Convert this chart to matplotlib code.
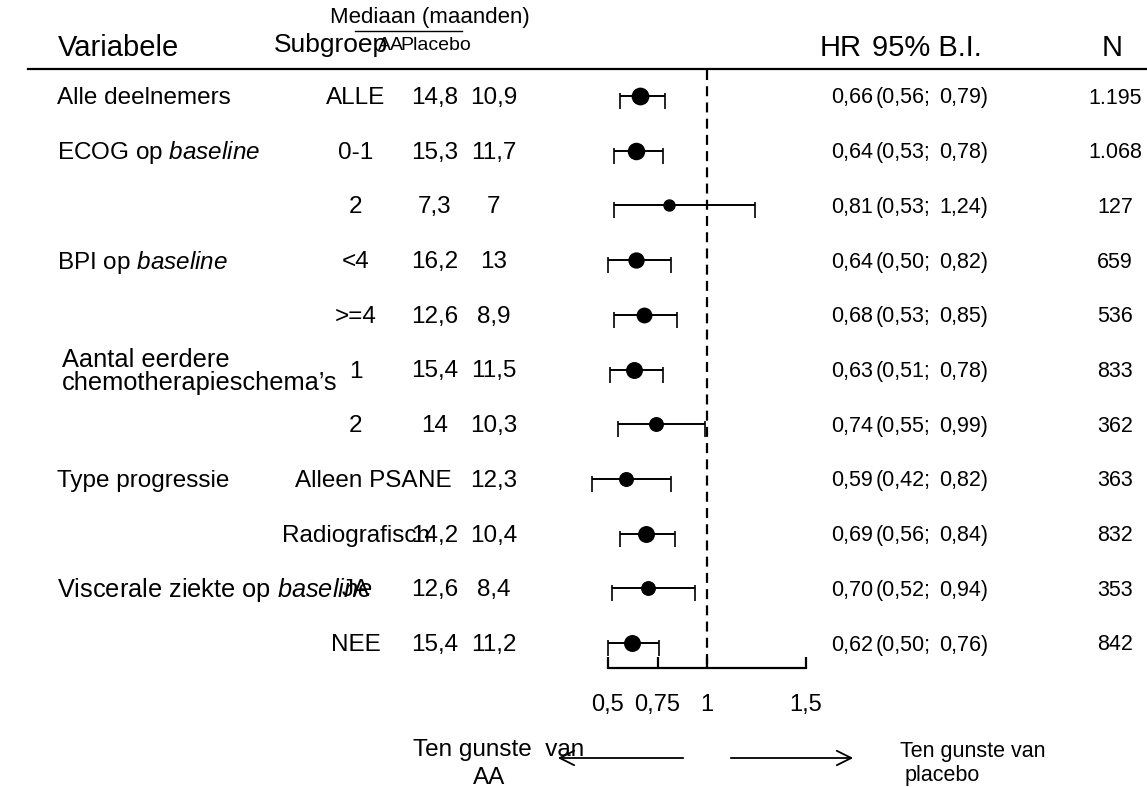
import numpy as np
import matplotlib.pyplot as plt
from matplotlib import font_manager

plt.rcParams['font.family'] = ['Liberation Sans', 'DejaVu Sans']
plt.rcParams['mathtext.fontset'] = 'custom'
plt.rcParams['mathtext.rm'] = 'Liberation Sans'
plt.rcParams['mathtext.it'] = 'Liberation Sans:italic'

# data
variables = ["Alle deelnemers", "ECOG op $\\mathit{baseline}$", "", "BPI op $\\mathit{baseline}$", "",
             "Aantal eerdere\nchemotherapieschema\u2019s", "", "Type progressie", "",
             "Viscerale ziekte op $\\mathit{baseline}$", ""]
subgroups = ["ALLE", "0-1", "2", "<4", ">=4", "1", "2", "Alleen PSA", "Radiografisch", "JA", "NEE"]
median_aa = ["14,8", "15,3", "7,3", "16,2", "12,6", "15,4", "14", "NE", "14,2", "12,6", "15,4"]
median_pl = ["10,9", "11,7", "7", "13", "8,9", "11,5", "10,3", "12,3", "10,4", "8,4", "11,2"]
hr = [0.66, 0.64, 0.81, 0.64, 0.68, 0.63, 0.74, 0.59, 0.69, 0.70, 0.62]
ci_lo = [0.56, 0.53, 0.53, 0.50, 0.53, 0.51, 0.55, 0.42, 0.56, 0.52, 0.50]
ci_hi = [0.79, 0.78, 1.24, 0.82, 0.85, 0.78, 0.99, 0.82, 0.84, 0.94, 0.76]
n_pat = [1195, 1068, 127, 659, 536, 833, 362, 363, 832, 353, 842]
xticks = [0.5, 0.75, 1, 1.5]
xticklabels = ["0,5", "0,75", "1", "1,5"]

# label sizes differ a little per row in the original
var_fs = [17.5, 17.5, 17.5, 17.5, 17.5, 18.3, 17.5, 17.5, 17.5, 18.3, 17.5]

def nl(v):
    return f"{v:.2f}".replace(".", ",")

def thousands(v):
    return f"{v:,}".replace(",", ".")

# the right hand columns are set in a narrow face in the original
names = {f.name for f in font_manager.fontManager.ttflist}
if 'Liberation Sans Narrow' in names:
    narrow = dict(family=['Liberation Sans Narrow', 'Liberation Sans'])
    nscale = 1.0
else:
    narrow = dict(family=['Liberation Sans', 'DejaVu Sans'])
    nscale = 0.886

W, H = 1147, 787
fig = plt.figure(figsize=(W / 100, H / 100), dpi=100)
ax = fig.add_axes([0, 0, 1, 1])
ax.set_xlim(0, W)
ax.set_ylim(H, 0)
ax.axis('off')

row0 = 96
step = 54.7
ypos = row0 + step * np.arange(len(hr))
fs = 17.5
hfs = 21

# header
ax.text(58, 48, "Variabele", fontsize=hfs, va='center', ha='left')
ax.text(388, 45, "Subgroep", fontsize=19, va='center', ha='right')
ax.text(430, 17, "Mediaan (maanden)", fontsize=16, va='center', ha='center')
ax.plot([355, 462], [31, 31], color='black', lw=1)
ax.text(378, 46, "AA", fontsize=14, va='center', ha='left')
ax.text(400, 46, "Placebo", fontsize=14, va='center', ha='left')
ax.text(820, 48, "HR", fontsize=hfs, va='center', ha='left')
ax.text(872, 48, "95% B.I.", fontsize=hfs, va='center', ha='left')
ax.text(1112, 48, "N", fontsize=hfs, va='center', ha='center')
ax.plot([28, W], [69, 69], color='black', lw=1.6)

# table columns
for i, y in enumerate(ypos):
    yt = y + 2
    if variables[i]:
        x = 62 if "\n" in variables[i] else 57
        ax.text(x, yt, variables[i], fontsize=var_fs[i], va='center', ha='left', linespacing=0.95)
    ax.text(356, yt, subgroups[i], fontsize=fs, va='center', ha='center')
    ax.text(435, yt, median_aa[i], fontsize=fs, va='center', ha='center')
    ax.text(494, yt, median_pl[i], fontsize=fs, va='center', ha='center')
    ax.text(831, yt, nl(hr[i]), fontsize=fs * nscale, va='center', ha='left', **narrow)
    ax.text(876, yt, "(" + nl(ci_lo[i]) + ";", fontsize=fs * nscale, va='center', ha='left', **narrow)
    ax.text(988, yt, nl(ci_hi[i]) + ")", fontsize=fs * nscale, va='center', ha='right', **narrow)
    ax.text(1115, yt, thousands(n_pat[i]), fontsize=fs * nscale, va='center', ha='center', **narrow)

# forest panel
fl, fr = 560, 830
px_per = 198.0
fa = fig.add_axes([fl / W, 0, (fr - fl) / W, 1])
fa.set_xlim(0.5 - (608 - fl) / px_per, 1.5 + (fr - 806) / px_per)
fa.set_ylim(H, 0)
fa.patch.set_alpha(0)
for s in ['top', 'left', 'right']:
    fa.spines[s].set_visible(False)
fa.spines['bottom'].set_position(('data', 668))
fa.spines['bottom'].set_bounds(0.5, 1.5)
fa.spines['bottom'].set_linewidth(1.6)
fa.set_yticks([])
fa.set_xticks(xticks)
fa.set_xticklabels(xticklabels, fontsize=17)
fa.tick_params(axis='x', direction='in', length=8, width=1.6, pad=19)

fa.vlines(1, 70, 668, colors='black', linestyles=(0, (4.5, 2.8)), lw=1.6)
fa.hlines(ypos, ci_lo, ci_hi, colors='black', lw=1.4)
fa.vlines(ci_lo, ypos - 3, ypos + 13, colors='black', lw=1.2)
fa.vlines(ci_hi, ypos - 3, ypos + 13, colors='black', lw=1.2)
diam = 11 + 2.4 * (np.log(n_pat) - np.log(127))
for i in range(len(hr)):
    fa.plot(hr[i], ypos[i], 'o', color='black', ms=diam[i] * 0.72)

# favours arrows
ax.annotate('', xy=(555, 758), xytext=(686, 758),
            arrowprops=dict(arrowstyle='->', lw=1.3, mutation_scale=26, color='black'))
ax.annotate('', xy=(856, 758), xytext=(728, 758),
            arrowprops=dict(arrowstyle='->', lw=1.3, mutation_scale=26, color='black'))
ax.text(499, 750, "Ten gunste  van", fontsize=fs, va='center', ha='center')
ax.text(489, 778, "AA", fontsize=fs, va='center', ha='center')
ax.text(900, 751, "Ten gunste van", fontsize=fs * nscale, va='center', ha='left', **narrow)
ax.text(905, 775, "placebo", fontsize=fs * nscale, va='center', ha='left', **narrow)

fig.savefig("out.png", dpi=100)
